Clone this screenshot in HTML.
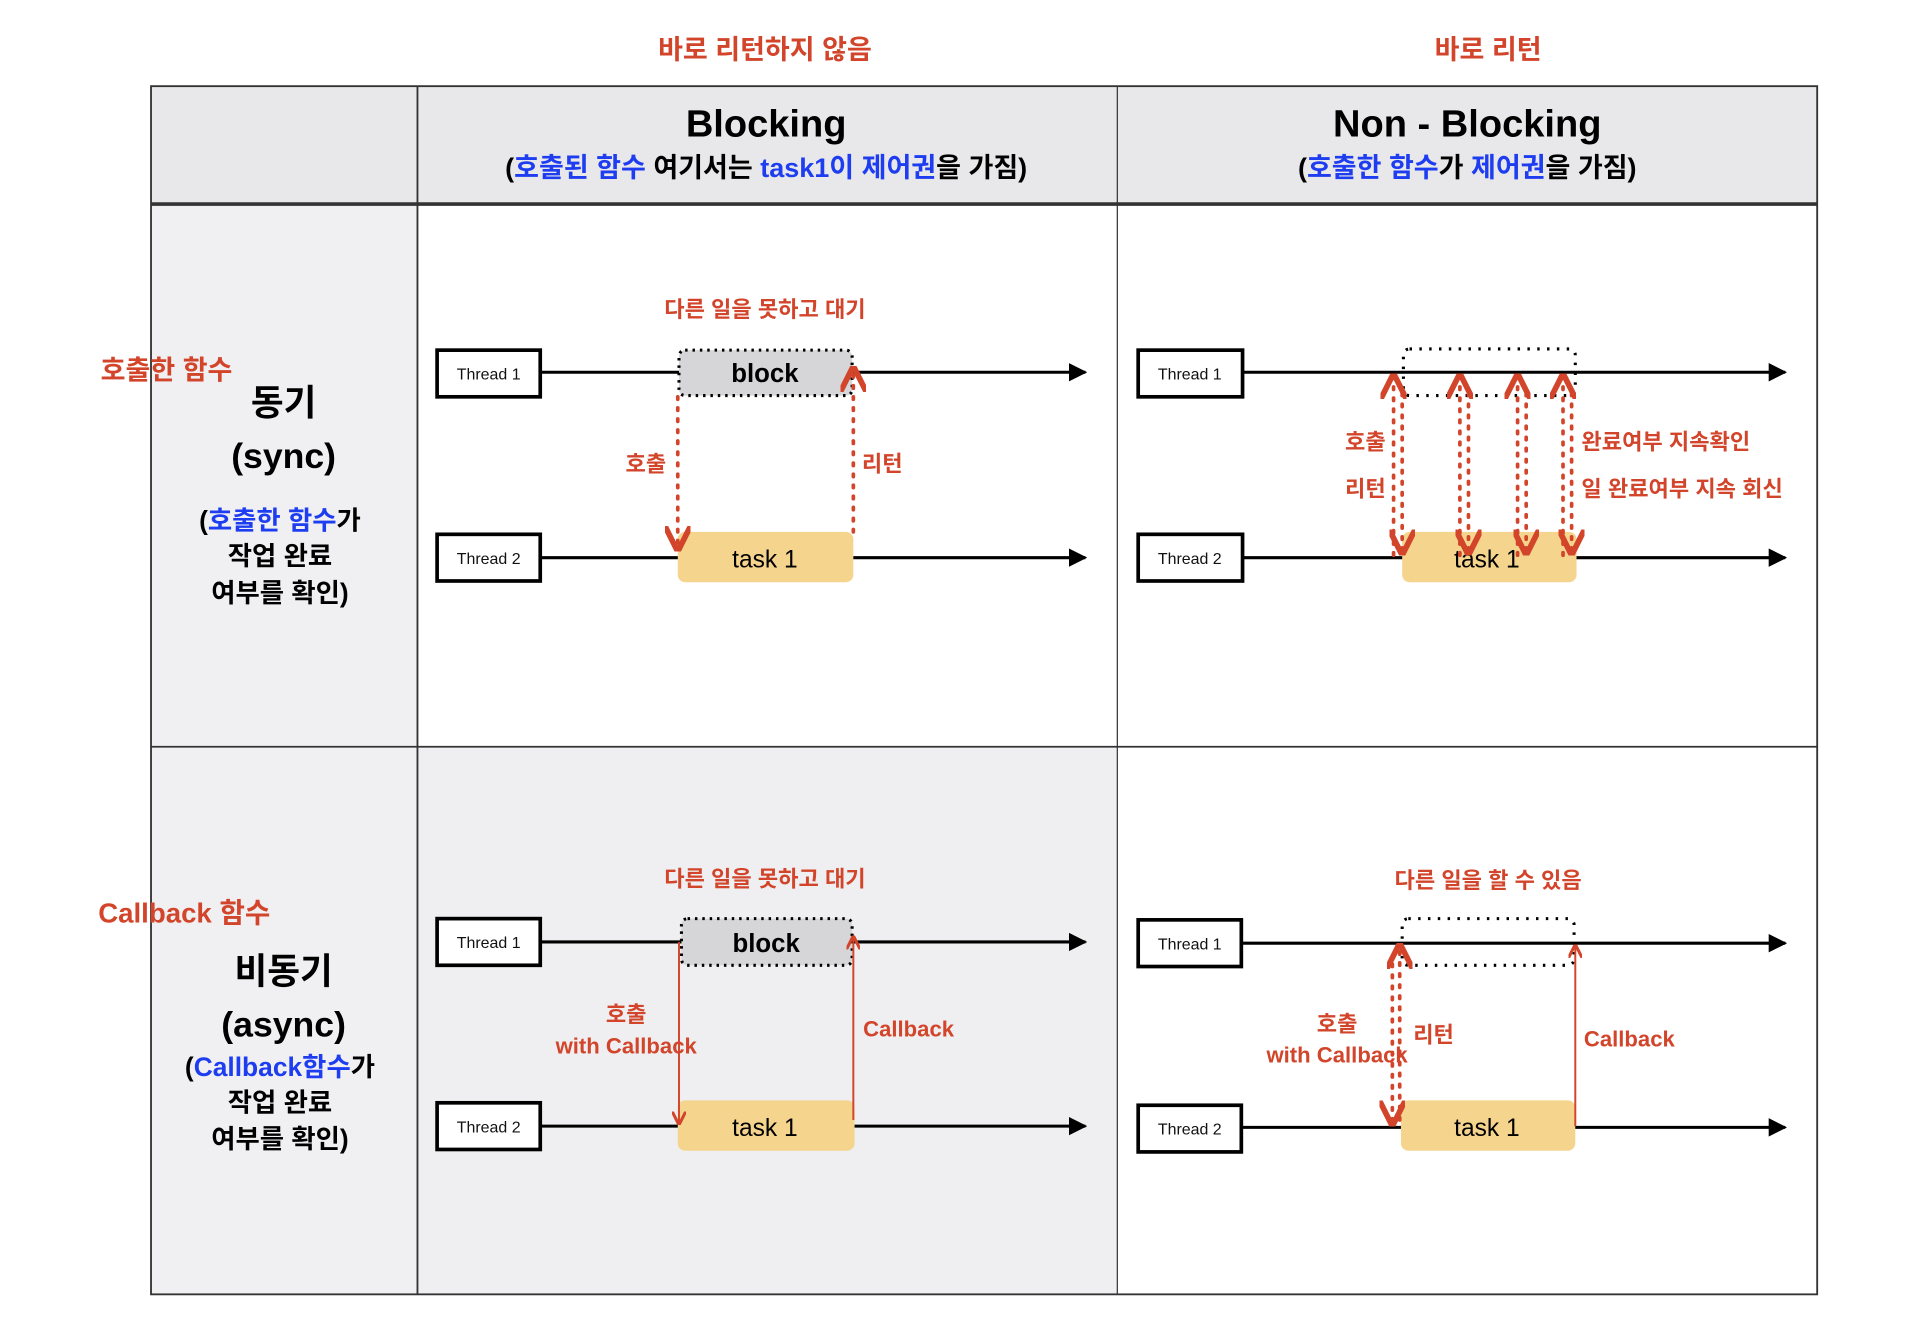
<!DOCTYPE html>
<html><head><meta charset="utf-8"><style>
html,body{margin:0;padding:0;background:#fff;}
svg{display:block}
text{font-family:"Liberation Sans","Noto Sans CJK KR",sans-serif;}
.r{fill:#d2452b;font-weight:bold;font-size:18px}
.b{fill:#1e3df0}
.t{font-size:13px;fill:#111}
</style></head><body>
<svg width="1924" height="1340" viewBox="0 0 1567 1091" xmlns="http://www.w3.org/2000/svg">
<defs>
<marker id="ab" viewBox="0 0 10 10" refX="9" refY="5" markerWidth="6" markerHeight="6" orient="auto"><path d="M0,0 L10,5 L0,10 z" fill="#000"/></marker>
<marker id="ar" viewBox="0 0 10 10" refX="9" refY="5" markerWidth="7" markerHeight="7" orient="auto-start-reverse"><path d="M0,0 L10,5 L0,10" fill="none" stroke="#d2452b" stroke-width="2.2"/></marker>
</defs>
<rect x="123" y="70" width="1357" height="96" fill="#e8e8ea"/>
<rect x="123" y="166" width="217" height="888" fill="#f0f0f2"/>
<rect x="340" y="608" width="570" height="446" fill="#efeff1"/>
<g stroke="#333" fill="none">
<rect x="123" y="70" width="1357" height="984" stroke-width="1.5"/>
<line x1="123" y1="166" x2="1480" y2="166" stroke-width="3"/>
<line x1="123" y1="608" x2="1480" y2="608" stroke-width="1.5"/>
<line x1="340" y1="70" x2="340" y2="1054" stroke-width="1.5"/>
<line x1="910" y1="70" x2="910" y2="1054" stroke-width="1"/>
</g>
<text class="r" x="623" y="48" text-anchor="middle" style="font-size:22px">바로 리턴하지 않음</text>
<text class="r" x="1212" y="48" text-anchor="middle" style="font-size:22px">바로 리턴</text>
<text x="624" y="111" text-anchor="middle" font-size="31" font-weight="bold">Blocking</text>
<text x="624" y="144" text-anchor="middle" font-size="22" font-weight="bold">(<tspan class="b">호출된 함수</tspan> 여기서는 <tspan class="b">task1이 제어권</tspan>을 가짐)</text>
<text x="1195" y="111" text-anchor="middle" font-size="31" font-weight="bold">Non - Blocking</text>
<text x="1195" y="144" text-anchor="middle" font-size="22" font-weight="bold">(<tspan class="b">호출한 함수</tspan>가 <tspan class="b">제어권</tspan>을 가짐)</text>
<text class="r" x="82" y="309" style="font-size:22px">호출한 함수</text>
<text x="231" y="338" text-anchor="middle" font-size="29" font-weight="bold">동기</text>
<text x="231" y="381" text-anchor="middle" font-size="29" font-weight="bold">(sync)</text>
<text x="228" y="431" text-anchor="middle" font-size="21.5" font-weight="bold">(<tspan class="b">호출한 함수</tspan>가</text>
<text x="228" y="460" text-anchor="middle" font-size="21.5" font-weight="bold">작업 완료</text>
<text x="228" y="490" text-anchor="middle" font-size="21.5" font-weight="bold">여부를 확인)</text>
<text class="r" x="80" y="751" style="font-size:22.5px">Callback 함수</text>
<text x="231" y="801" text-anchor="middle" font-size="29" font-weight="bold">비동기</text>
<text x="231" y="844" text-anchor="middle" font-size="29" font-weight="bold">(async)</text>
<text x="228" y="876" text-anchor="middle" font-size="21.5" font-weight="bold">(<tspan class="b">Callback함수</tspan>가</text>
<text x="228" y="905" text-anchor="middle" font-size="21.5" font-weight="bold">작업 완료</text>
<text x="228" y="935" text-anchor="middle" font-size="21.5" font-weight="bold">여부를 확인)</text>

<text class="r" x="623" y="258" text-anchor="middle">다른 일을 못하고 대기</text>
<line x1="440" y1="303" x2="884" y2="303" stroke="#000" stroke-width="2.5" marker-end="url(#ab)"/>
<line x1="440" y1="454" x2="884" y2="454" stroke="#000" stroke-width="2.5" marker-end="url(#ab)"/>
<rect x="553" y="285" width="141" height="37" rx="5" fill="#d6d6d8" stroke="#000" stroke-width="2.5" stroke-dasharray="2,4"/>
<text x="623" y="311" text-anchor="middle" font-size="21" font-weight="bold">block</text>
<rect x="552" y="433" width="143" height="41" rx="6" fill="#f5d48e"/>
<text x="623" y="462" text-anchor="middle" font-size="20">task 1</text>
<rect x="356" y="285" width="84" height="38" fill="#fff" stroke="#000" stroke-width="3"/>
<text class="t" x="398" y="309" text-anchor="middle">Thread 1</text>
<rect x="356" y="435" width="84" height="38" fill="#fff" stroke="#000" stroke-width="3"/>
<text class="t" x="398" y="459" text-anchor="middle">Thread 2</text>
<line x1="552" y1="323" x2="552" y2="447" stroke="#d2452b" stroke-width="3" stroke-dasharray="2,7" stroke-linecap="round" marker-end="url(#ar)"/>
<line x1="695" y1="433" x2="695" y2="300" stroke="#d2452b" stroke-width="3" stroke-dasharray="2,7" stroke-linecap="round" marker-end="url(#ar)"/>
<text class="r" x="526" y="384" text-anchor="middle">호출</text>
<text class="r" x="702" y="384">리턴</text>

<line x1="1012" y1="303" x2="1454" y2="303" stroke="#000" stroke-width="2.5" marker-end="url(#ab)"/>
<line x1="1012" y1="454" x2="1454" y2="454" stroke="#000" stroke-width="2.5" marker-end="url(#ab)"/>
<rect x="1143" y="284" width="140" height="38" rx="5" fill="none" stroke="#000" stroke-width="2.5" stroke-dasharray="2,6"/>
<rect x="1142" y="433" width="142" height="41" rx="6" fill="#f5d48e"/>
<text x="1211" y="462" text-anchor="middle" font-size="20">task 1</text>
<rect x="927" y="285" width="85" height="38" fill="#fff" stroke="#000" stroke-width="3"/>
<text class="t" x="969" y="309" text-anchor="middle">Thread 1</text>
<rect x="927" y="435" width="85" height="38" fill="#fff" stroke="#000" stroke-width="3"/>
<text class="t" x="969" y="459" text-anchor="middle">Thread 2</text>
<g stroke="#d2452b" stroke-width="3" stroke-dasharray="2,7" stroke-linecap="round">
<line x1="1135" y1="452" x2="1135" y2="306" marker-end="url(#ar)"/><line x1="1142" y1="320" x2="1142" y2="450" marker-end="url(#ar)"/>
<line x1="1189" y1="452" x2="1189" y2="306" marker-end="url(#ar)"/><line x1="1196" y1="320" x2="1196" y2="450" marker-end="url(#ar)"/>
<line x1="1236" y1="452" x2="1236" y2="306" marker-end="url(#ar)"/><line x1="1243" y1="320" x2="1243" y2="450" marker-end="url(#ar)"/>
<line x1="1273" y1="452" x2="1273" y2="306" marker-end="url(#ar)"/><line x1="1280" y1="320" x2="1280" y2="450" marker-end="url(#ar)"/>
</g>
<text class="r" x="1112" y="366" text-anchor="middle">호출</text>
<text class="r" x="1112" y="404" text-anchor="middle">리턴</text>
<text class="r" x="1288" y="366">완료여부 지속확인</text>
<text class="r" x="1288" y="404">일 완료여부 지속 회신</text>

<text class="r" x="623" y="722" text-anchor="middle">다른 일을 못하고 대기</text>
<line x1="440" y1="767" x2="884" y2="767" stroke="#000" stroke-width="2.5" marker-end="url(#ab)"/>
<line x1="440" y1="917" x2="884" y2="917" stroke="#000" stroke-width="2.5" marker-end="url(#ab)"/>
<rect x="555" y="748" width="139" height="38" rx="5" fill="#d6d6d8" stroke="#000" stroke-width="2.5" stroke-dasharray="2,4"/>
<text x="624" y="775" text-anchor="middle" font-size="21" font-weight="bold">block</text>
<rect x="552" y="896" width="144" height="41" rx="6" fill="#f5d48e"/>
<text x="623" y="925" text-anchor="middle" font-size="20">task 1</text>
<rect x="356" y="748" width="84" height="38" fill="#fff" stroke="#000" stroke-width="3"/>
<text class="t" x="398" y="772" text-anchor="middle">Thread 1</text>
<rect x="356" y="898" width="84" height="38" fill="#fff" stroke="#000" stroke-width="3"/>
<text class="t" x="398" y="922" text-anchor="middle">Thread 2</text>
<line x1="553" y1="767" x2="553" y2="915" stroke="#d2452b" stroke-width="1.6" marker-end="url(#ar)"/>
<line x1="695" y1="912" x2="695" y2="763" stroke="#d2452b" stroke-width="1.6" marker-end="url(#ar)"/>
<text class="r" x="510" y="832" text-anchor="middle">호출</text>
<text class="r" x="510" y="858" text-anchor="middle">with Callback</text>
<text class="r" x="703" y="844">Callback</text>

<text class="r" x="1212" y="723" text-anchor="middle">다른 일을 할 수 있음</text>
<line x1="1012" y1="768" x2="1454" y2="768" stroke="#000" stroke-width="2.5" marker-end="url(#ab)"/>
<line x1="1012" y1="918" x2="1454" y2="918" stroke="#000" stroke-width="2.5" marker-end="url(#ab)"/>
<rect x="1142" y="748" width="140" height="38" rx="5" fill="none" stroke="#000" stroke-width="2.5" stroke-dasharray="2,6"/>
<rect x="1141" y="896" width="142" height="41" rx="6" fill="#f5d48e"/>
<text x="1211" y="925" text-anchor="middle" font-size="20">task 1</text>
<rect x="927" y="749" width="84" height="38" fill="#fff" stroke="#000" stroke-width="3"/>
<text class="t" x="969" y="773" text-anchor="middle">Thread 1</text>
<rect x="927" y="900" width="84" height="38" fill="#fff" stroke="#000" stroke-width="3"/>
<text class="t" x="969" y="924" text-anchor="middle">Thread 2</text>
<g stroke="#d2452b" stroke-width="3" stroke-dasharray="2,7" stroke-linecap="round">
<line x1="1134" y1="785" x2="1134" y2="915" marker-end="url(#ar)"/>
<line x1="1140" y1="912" x2="1140" y2="770" marker-end="url(#ar)"/>
</g>
<line x1="1283" y1="917" x2="1283" y2="770" stroke="#d2452b" stroke-width="1.6" marker-end="url(#ar)"/>
<text class="r" x="1089" y="840" text-anchor="middle">호출</text>
<text class="r" x="1089" y="865" text-anchor="middle">with Callback</text>
<text class="r" x="1151" y="849">리턴</text>
<text class="r" x="1290" y="852">Callback</text>
</svg>
</body></html>
